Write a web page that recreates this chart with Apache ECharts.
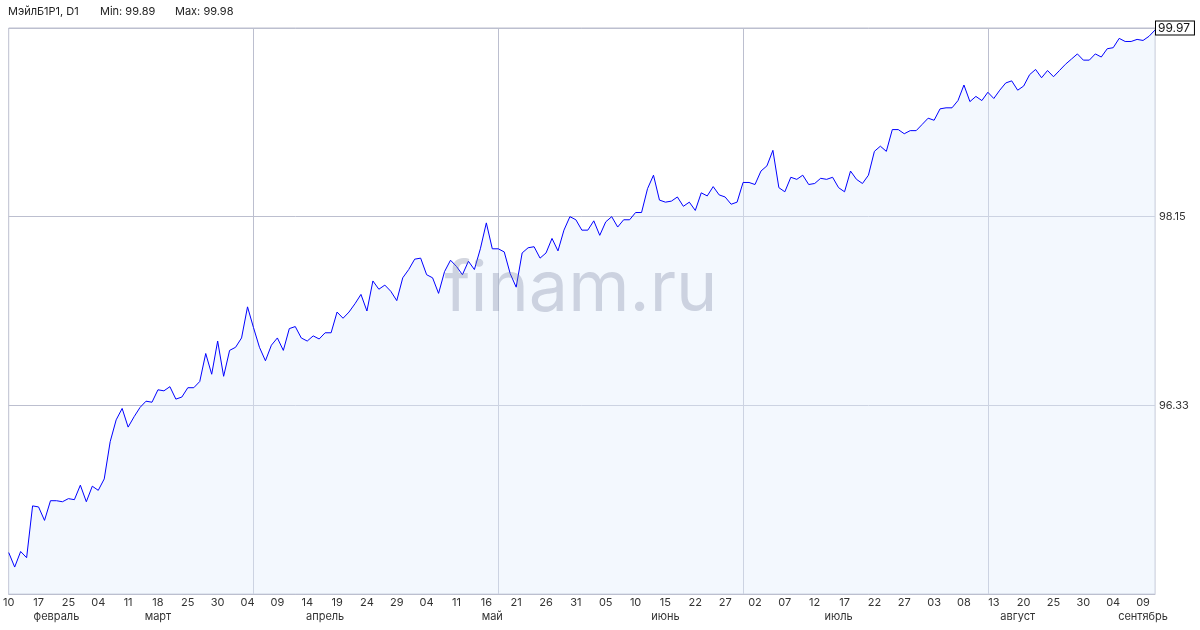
<!DOCTYPE html>
<html>
<head>
<meta charset="utf-8">
<script src="https://cdn.jsdelivr.net/npm/echarts@6/dist/echarts.min.js"></script>
<style>
html,body{margin:0;padding:0;background:#fff;}
#chart{width:1200px;height:630px;}
</style>
</head>
<body>
<div id="chart"></div>
<script>
const instrumentName = 'МэйлБ1Р1, D1';
const headerMin = '99.89';
const headerMax = '99.98';

const values = [
  94.91, 94.77, 94.92, 94.86, 95.36, 95.35, 95.22, 95.41, 95.41, 95.40, 95.43, 95.42, 95.56, 95.40, 95.55, 95.51, 95.62, 95.98, 96.19, 96.30, 96.12, 96.22, 96.31, 96.37, 96.36, 96.48, 96.47, 96.51, 96.39, 96.41, 96.50, 96.50, 96.56,
  96.83, 96.63, 96.95, 96.61, 96.86, 96.89, 96.98, 97.28, 97.08, 96.89, 96.76, 96.91, 96.98, 96.86, 97.07, 97.09, 96.98, 96.95, 97.00, 96.97, 97.03, 97.03, 97.23, 97.17, 97.23, 97.31, 97.40, 97.24, 97.53, 97.45, 97.49, 97.43, 97.34,
  97.56, 97.64, 97.74, 97.75, 97.59, 97.56, 97.41, 97.62, 97.73, 97.67, 97.59, 97.72, 97.64, 97.84, 98.09, 97.84, 97.84, 97.81, 97.60, 97.47, 97.80, 97.85, 97.86, 97.75, 97.80, 97.94, 97.82, 98.02, 98.15, 98.12, 98.02, 98.02, 98.11, 97.97,
  98.10, 98.15, 98.05, 98.12, 98.12, 98.19, 98.19, 98.42, 98.55, 98.31, 98.29, 98.30, 98.34, 98.25, 98.29, 98.21, 98.38, 98.35, 98.44, 98.36, 98.34, 98.27, 98.29, 98.48, 98.48, 98.46, 98.59, 98.64, 98.79, 98.43, 98.39, 98.53, 98.51, 98.55,
  98.46, 98.47, 98.52, 98.51, 98.53, 98.43, 98.39, 98.59, 98.51, 98.47, 98.55, 98.78, 98.83, 98.78, 98.99, 98.99, 98.95, 98.98, 98.98, 99.04, 99.10, 99.08, 99.19, 99.20, 99.20, 99.27, 99.42, 99.26, 99.31, 99.27, 99.35, 99.29, 99.37,
  99.44, 99.46, 99.37, 99.41, 99.52, 99.57, 99.49, 99.56, 99.50, 99.56, 99.62, 99.67, 99.72, 99.66, 99.66, 99.72, 99.69, 99.77, 99.78, 99.87, 99.84, 99.84, 99.86, 99.85, 99.89, 99.95
];

const categories = values.map((_, i) => i);

// date tick labels, one per 5 trading days
const tickLabels = ['10','17','25','04','11','18','25','30','04','09','14','19','24','29','04','11','16','21','26','31','05','10','15','22','27','02','07','12','17','22','27','03','08','13','20','25','30','04','09'];
const tickEvery = 5;

// month labels: [category index, name]
const monthLabels = [[8,'февраль'],[25,'март'],[53,'апрель'],[81,'май'],[110,'июнь'],[139,'июль'],[169,'август'],[190,'сентябрь']];

// vertical grid lines at category indices
const vGridIdx = [41, 82, 123, 164];

// y scale
const yMin = 94.51;
const yMax = 99.97;
const yTicks = [96.33, 98.15, 99.97];
const lastPrice = 99.97;

const gridColor = '#bcbfcf';
const FONT = 'Inter, Roboto, "Noto Sans", sans-serif';

const chart = echarts.init(document.getElementById('chart'), null, {renderer: 'canvas'});

const monthMap = {};
monthLabels.forEach(([i, n]) => { monthMap[i] = n; });

chart.setOption({
  animation: false,
  textStyle: {fontFamily: FONT},
  grid: {left: 8, right: 45, top: 28, bottom: 36, show: true, borderColor: gridColor, borderWidth: 1},
  graphic: [
    {type: 'text', left: 8, top: 6, z: 10, style: {text: instrumentName, fontSize: 11, fill: '#222', fontFamily: FONT}},
    {type: 'text', left: 100, top: 6, z: 10, style: {text: 'Min: ' + headerMin, fontSize: 11, fill: '#222', fontFamily: FONT}},
    {type: 'text', left: 175, top: 6, z: 10, style: {text: 'Max: ' + headerMax, fontSize: 11, fill: '#222', fontFamily: FONT}},
    {type: 'text', x: 581, y: 290, z: 10, style: {text: 'finam.ru', fontSize: 70, fill: 'rgba(120,130,160,0.32)', fontFamily: FONT, align: 'center', verticalAlign: 'middle'}}
  ],
  xAxis: [
    {
      type: 'category',
      data: categories,
      boundaryGap: false,
      axisLine: {show: true, lineStyle: {color: gridColor}},
      axisTick: {show: false},
      axisLabel: {
        interval: (idx) => idx % tickEvery === 0,
        formatter: (v, idx) => tickLabels[Math.round(idx / tickEvery)] || '',
        color: '#333', fontSize: 11, margin: 3, fontFamily: FONT
      },
      splitLine: {
        show: true,
        interval: (idx) => vGridIdx.indexOf(idx) >= 0,
        lineStyle: {color: gridColor, width: 1}
      }
    },
    {
      type: 'category',
      data: categories,
      boundaryGap: false,
      position: 'bottom',
      axisLine: {show: false},
      axisTick: {show: false},
      splitLine: {show: false},
      axisLabel: {
        interval: (idx) => monthMap[idx] !== undefined,
        formatter: (v, idx) => monthMap[idx] || '',
        color: '#333', fontSize: 11, margin: 17, fontFamily: FONT
      }
    }
  ],
  yAxis: {
    type: 'value',
    position: 'right',
    min: yMin,
    max: yMax,
    axisLine: {show: false},
    axisTick: {show: false},
    axisLabel: {show: false},
    splitLine: {show: false}
  },
  series: [{
    type: 'line',
    data: values,
    xAxisIndex: 0,
    symbol: 'none',
    z: 2,
    lineStyle: {color: '#0000ff', width: 1},
    areaStyle: {color: 'rgba(227,238,252,0.6)'},
    markLine: {
      silent: true,
      symbol: 'none',
      z: 1,
      animation: false,
      lineStyle: {color: gridColor, type: 'solid', width: 1},
      data: yTicks.map(v => {
        if (v === lastPrice) {
          return {
            yAxis: v,
            label: {
              show: true, position: 'end', distance: 1,
              formatter: '{b|' + v.toFixed(2) + '}',
              rich: {b: {borderColor: '#000', borderWidth: 1, padding: [1, 4, 0, 2], fontSize: 12, lineHeight: 13, color: '#111', backgroundColor: '#fff', fontFamily: FONT}}
            }
          };
        }
        return {
          yAxis: v,
          label: {show: true, position: 'end', distance: 4, formatter: v.toFixed(2), fontSize: 11, color: '#333', fontFamily: FONT}
        };
      })
    }
  }]
});
</script>
</body>
</html>
